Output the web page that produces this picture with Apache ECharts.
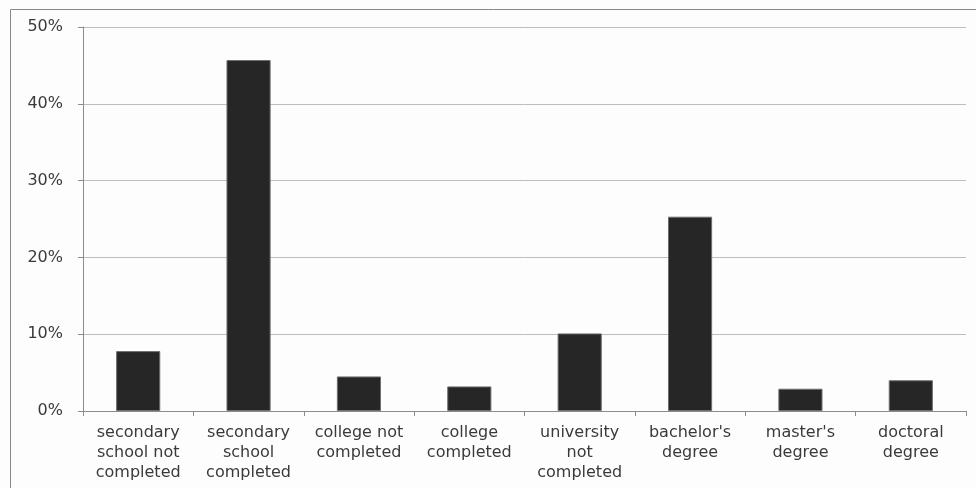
<!DOCTYPE html>
<html>
<head>
<meta charset="utf-8">
<script src="https://cdn.jsdelivr.net/npm/echarts@6/dist/echarts.min.js"></script>
<style>
html,body{margin:0;padding:0;background:#fdfdfd;}
#chart{width:976px;height:488px;}
</style>
</head>
<body>
<div id="chart"></div>
<script>
const categories = [
  "secondary\nschool not\ncompleted",
  "secondary\nschool\ncompleted",
  "college not\ncompleted",
  "college\ncompleted",
  "university\nnot\ncompleted",
  "bachelor's\ndegree",
  "master's\ndegree",
  "doctoral\ndegree"
];
const shares = [7.8, 45.7, 4.5, 3.2, 10.1, 25.3, 2.9, 4.0];
const yTicks = { min: 0, max: 50, interval: 10 };

const chart = echarts.init(document.getElementById('chart'));
chart.setOption({
  backgroundColor: '#fdfdfd',
  animation: false,
  textStyle: { fontFamily: '"DejaVu Sans", sans-serif' },
  graphic: [{
    type: 'rect',
    shape: { x: 10.5, y: 9.5, width: 980, height: 500 },
    style: { fill: 'none', stroke: '#888', lineWidth: 1 },
    silent: true
  }],
  grid: { left: 83, right: 10, top: 27, bottom: 77 },
  xAxis: {
    type: 'category',
    data: categories,
    axisLine: { lineStyle: { color: '#8c8c8c', width: 1 } },
    axisTick: { show: true, length: 5, alignWithLabel: false, lineStyle: { color: '#8c8c8c' } },
    axisLabel: { color: '#3a3a3a', fontSize: 16, lineHeight: 20, margin: 12, interval: 0 }
  },
  yAxis: {
    type: 'value',
    min: yTicks.min, max: yTicks.max, interval: yTicks.interval,
    axisLine: { show: true, lineStyle: { color: '#8c8c8c', width: 1 } },
    axisTick: { show: true, length: 5, lineStyle: { color: '#8c8c8c' } },
    splitLine: { lineStyle: { color: '#bdbdbd', width: 1 } },
    axisLabel: { color: '#3a3a3a', fontSize: 16, margin: 20, formatter: '{value}%' }
  },
  series: [{
    type: 'bar',
    data: shares,
    barWidth: '40%',
    itemStyle: { color: '#262626', borderColor: '#6e6e6e', borderWidth: 1 }
  }]
});
</script>
</body>
</html>
